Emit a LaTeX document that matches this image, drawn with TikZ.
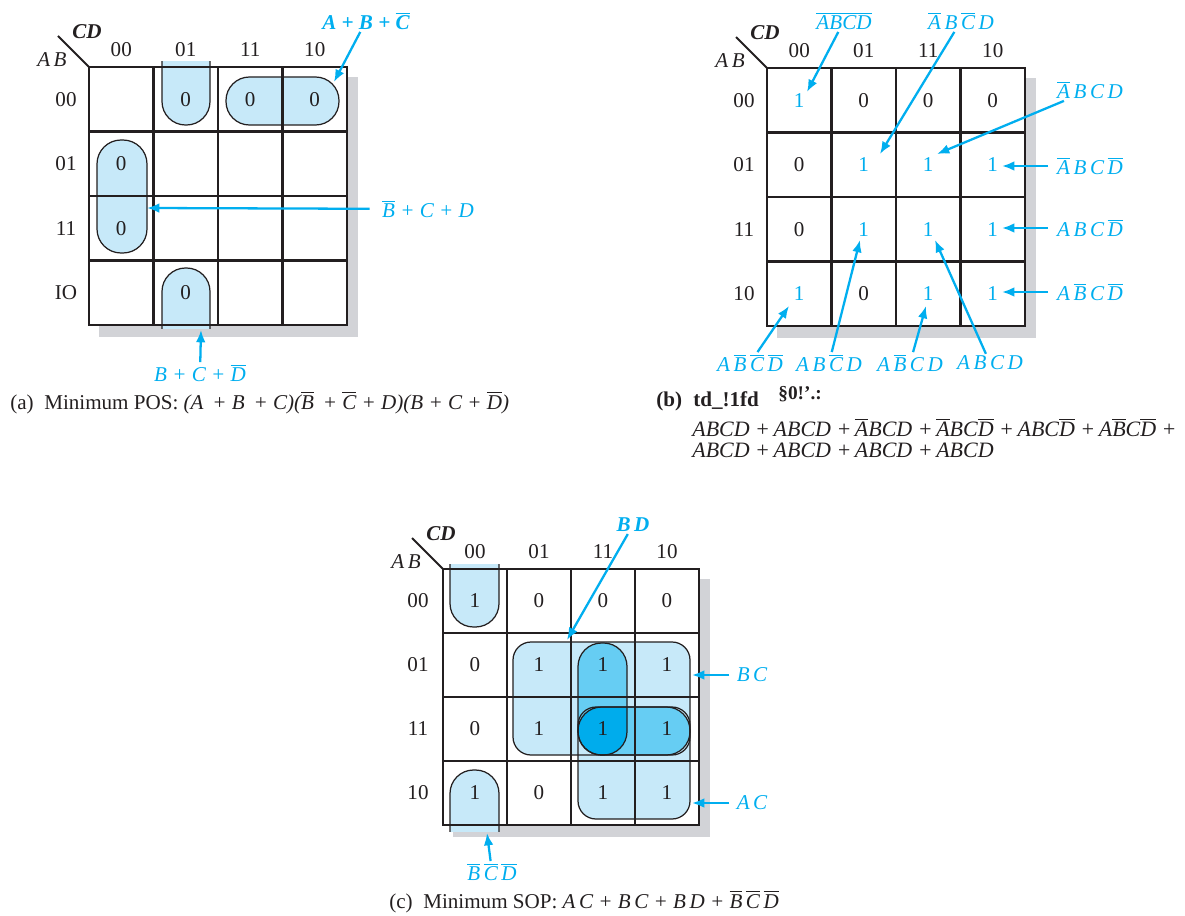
\documentclass[tikz,border=0pt]{standalone}
\usepackage{fontspec}
\setmainfont{Liberation Serif}
\usetikzlibrary{positioning, arrows.meta, calc}

\definecolor{kcyan}{RGB}{0,174,239}
\definecolor{klight}{RGB}{199,233,249}
\definecolor{kmid}{RGB}{102,205,243}
\definecolor{kdark}{RGB}{0,172,236}
\definecolor{kshade}{RGB}{210,211,215}
\definecolor{kline}{RGB}{35,31,32}

\newcommand{\nt}[1]{$\overline{\mbox{#1}}$}

\tikzset{
  kgrid/.style={draw=kline, line width=1.4pt, line cap=rect},
  grp/.style={draw=kline, line width=0.7pt},
  num/.style={text=kline, font=\fontsize{12}{14}\selectfont, inner sep=1pt},
  hdr/.style={text=kline, font=\fontsize{12}{14}\selectfont, inner sep=1pt},
  lbl/.style={text=kcyan, font=\itshape\fontsize{12}{14}\selectfont, inner sep=1pt},
  arr/.style={draw=kcyan, line width=1.3pt, -{Latex[length=7pt,width=5.5pt]}},
  capt/.style={text=kline, font=\fontsize{12}{14}\selectfont, anchor=base west, inner sep=0pt},
}

\begin{document}
\begin{tikzpicture}[x=0.02cm, y=-0.02cm]
\useasboundingbox (0,0) rectangle (1185,915);

% shadows and white cells of the three maps
\foreach \ox/\oy/\cs in {89/67/64.5, 767/68/64.5, 443/569/64}{
  \fill[kshade] ({\ox+10},{\oy+10}) rectangle ({\ox+4*\cs+11},{\oy+4*\cs+12});
  \fill[white] (\ox,\oy) rectangle ({\ox+4*\cs},{\oy+4*\cs});
}

% (a) groups of zeros
\filldraw[grp, fill=klight, rounded corners=0.47cm] (226,77) rectangle (339,125);
\filldraw[grp, fill=klight, rounded corners=0.48cm] (97,140) rectangle (147,253);
\begin{scope}
  \clip (150,62) rectangle (222,140);
  \filldraw[grp, fill=klight, rounded corners=0.47cm] (162,20) rectangle (210,125);
\end{scope}
\begin{scope}
  \clip (150,255) rectangle (222,328);
  \filldraw[grp, fill=klight, rounded corners=0.47cm] (162,268) rectangle (210,370);
\end{scope}

% (c) groups of ones
\fill[klight, rounded corners=0.36cm] (513,642) rectangle (690,755);
\fill[klight, rounded corners=0.36cm] (578,707) rectangle (690,819);
\fill[kmid, rounded corners=0.47cm] (578,643) rectangle (627,755);
\fill[kmid, rounded corners=0.47cm] (578,707) rectangle (690,755);
\begin{scope}
  \clip[rounded corners=0.47cm] (578,643) rectangle (627,755);
  \fill[kdark, rounded corners=0.47cm] (578,707) rectangle (690,755);
\end{scope}
\begin{scope}
  \clip (440,564) rectangle (510,640);
  \filldraw[grp, fill=klight, rounded corners=0.47cm] (450,520) rectangle (499,627);
\end{scope}
\begin{scope}
  \clip (440,760) rectangle (510,831);
  \filldraw[grp, fill=klight, rounded corners=0.47cm] (450,770) rectangle (499,880);
\end{scope}

% grids, corner lines and column headers
\foreach \ox/\oy/\cs/\nm in {89/67/64.5/a, 767/68/64.5/b, 443/569/64/c}{
  \foreach \i in {0,...,4}{
    \draw[kgrid] ({\ox+\i*\cs},\oy) -- ({\ox+\i*\cs},{\oy+4*\cs});
    \draw[kgrid] (\ox,{\oy+\i*\cs}) -- ({\ox+4*\cs},{\oy+\i*\cs});
  }
  \draw[kline, line width=1.1pt] ({\ox-31},{\oy-31}) -- (\ox,\oy);
  \node[hdr, font=\bfseries\itshape\fontsize{12}{14}\selectfont] (cd-\nm) at ({\ox-2},{\oy-35}) {CD};
  \node[hdr, font=\itshape\fontsize{12}{14}\selectfont] (ab-\nm) at ({\ox-37},{\oy-7}) {A\,B};
  \foreach \c/\t in {0/00, 1/01, 2/11, 3/10}
    \node[hdr] (col-\nm-\c) at ({\ox+(\c+0.5)*\cs},{\oy-17}) {\t};
}
\foreach \r/\t in {0/00, 1/01, 2/11, 3/IO}
  \node[hdr] (row-a-\r) at (66,{67+(\r+0.5)*64.5}) {\t};
\foreach \r/\t in {0/00, 1/01, 2/11, 3/10}
  \node[hdr] (row-b-\r) at (744,{68+(\r+0.5)*64.5}) {\t};
\foreach \r/\t in {0/00, 1/01, 2/11, 3/10}
  \node[hdr] (row-c-\r) at (418,{569+(\r+0.5)*64}) {\t};

% (c) group outlines
\draw[grp, rounded corners=0.36cm] (513,642) rectangle (690,755);
\draw[grp, rounded corners=0.36cm] (578,707) rectangle (690,819);
\draw[grp, rounded corners=0.47cm] (578,643) rectangle (627,755);
\draw[grp, rounded corners=0.47cm] (578,707) rectangle (690,755);

% cell values
\foreach \r/\c in {0/1, 0/2, 0/3, 1/0, 2/0, 3/1}{
  \node[num] (v-a-\r\c) at ({89+(\c+0.5)*64.5},{67+(\r+0.5)*64.5}) {0};
  \node[num] (v-b-\r\c) at ({767+(\c+0.5)*64.5},{68+(\r+0.5)*64.5}) {0};
  \node[num] (v-c-\r\c) at ({443+(\c+0.5)*64},{569+(\r+0.5)*64}) {0};
}
\foreach \r/\c in {0/0, 1/1, 1/2, 1/3, 2/1, 2/2, 2/3, 3/0, 3/2, 3/3}{
  \node[num, text=kcyan] (v-b-\r\c) at ({767+(\c+0.5)*64.5},{68+(\r+0.5)*64.5}) {1};
  \node[num] (v-c-\r\c) at ({443+(\c+0.5)*64},{569+(\r+0.5)*64}) {1};
}

% (a) labels
\node[lbl, font=\bfseries\itshape\fontsize{12}{14}\selectfont] (pa1) at (366,21) {A + B + \nt{C}};
\coordinate (ta1) at (334,82);
\draw[arr] (pa1) -- (ta1);
\node[lbl] (pa2) at (428,209) {\nt{B} + C + D};
\coordinate (ta2) at (147,208);
\draw[arr, shorten <=6pt] (pa2) -- (ta2);
\node[lbl] (pa3) at (200,373) {B + C + \nt{D}};
\coordinate (ta3) at (201,330);
\draw[arr] (pa3) -- (ta3);
\node[capt] (capa) at (10,409) {(a)\enspace Minimum POS: {\itshape (A\,~+ B\,~+ C)(\nt{B}\,~+ \nt{C} + D)(B + C + \nt{D})}};

% (b) labels
\node[lbl] (pb1) at (844,21) {\nt{A}\nt{B}\nt{C}\nt{D}};
\node[lbl] (pb2) at (961,21) {\nt{A}\,B\,\nt{C}\,D};
\node[lbl] (pb3) at (1090,90) {\nt{A}\,B\,C\,D};
\node[lbl] (pb4) at (1090,166) {\nt{A}\,B\,C\,\nt{D}};
\node[lbl] (pb5) at (1090,228) {A\,B\,C\,\nt{D}};
\node[lbl] (pb6) at (1090,292) {A\,\nt{B}\,C\,\nt{D}};
\node[lbl] (pb7) at (750,363) {A\,\nt{B}\,\nt{C}\,\nt{D}};
\node[lbl] (pb8) at (829,363) {A\,B\,\nt{C}\,D};
\node[lbl] (pb9) at (910,363) {A\,\nt{B}\,C\,D};
\node[lbl] (pb10) at (990,363) {A\,B\,C\,D};
\coordinate (tb1) at (807,92);
\coordinate (tb2) at (880,154);
\coordinate (tb3) at (937,154);
\coordinate (tb4) at (1002,166);
\coordinate (tb5) at (1002,228);
\coordinate (tb6) at (1002,292);
\coordinate (tb7) at (789,306);
\coordinate (tb8) at (860,240);
\coordinate (tb9) at (926,306);
\coordinate (tb10) at (935,240);
\foreach \k in {1,2,3,7,8,9,10}
  \draw[arr] (pb\k) -- (tb\k);
\foreach \k in {4,5,6}
  \draw[arr, shorten <=4pt] (pb\k) -- (tb\k);
\node[capt, font=\bfseries\fontsize{12}{14}\selectfont] (capb) at (656,406) {(b)};
\node[capt, font=\bfseries\fontsize{12}{14}\selectfont] (capb2) at (693,406) {td\_!1fd};
\node[capt, font=\bfseries\fontsize{11}{13}\selectfont] (capb3) at (778,399) {§0!'.:};
\node[capt, font=\itshape\fontsize{12.5}{15}\selectfont] (eqb1) at (692,436)
  {ABCD +\,ABCD +\,\nt{A}BCD +\,\nt{A}BC\nt{D} +\,ABC\nt{D} +\,A\nt{B}C\nt{D} +};
\node[capt, font=\itshape\fontsize{12.5}{15}\selectfont] (eqb2) at (692,457)
  {ABCD +\,ABCD +\,ABCD +\,ABCD};

% (c) labels
\node[lbl, font=\bfseries\itshape\fontsize{12}{14}\selectfont] (pc1) at (633,525) {B\,D};
\node[lbl] (pc2) at (752,675) {B\,C};
\node[lbl] (pc3) at (752,803) {A\,C};
\node[lbl] (pc4) at (492,872) {\nt{B}\,\nt{C}\,\nt{D}};
\coordinate (tc1) at (567,640);
\coordinate (tc2) at (692,675);
\coordinate (tc3) at (692,803);
\coordinate (tc4) at (487,833);
\draw[arr] (pc1) -- (tc1);
\draw[arr, shorten <=3pt] (pc2) -- (tc2);
\draw[arr, shorten <=3pt] (pc3) -- (tc3);
\draw[arr] (pc4) -- (tc4);
\node[capt] (capc) at (389,908) {(c)\enspace Minimum SOP: {\itshape A\,C + B\,C + B\,D + \nt{B}\,\nt{C}\,\nt{D}}};
\end{tikzpicture}
\end{document}
